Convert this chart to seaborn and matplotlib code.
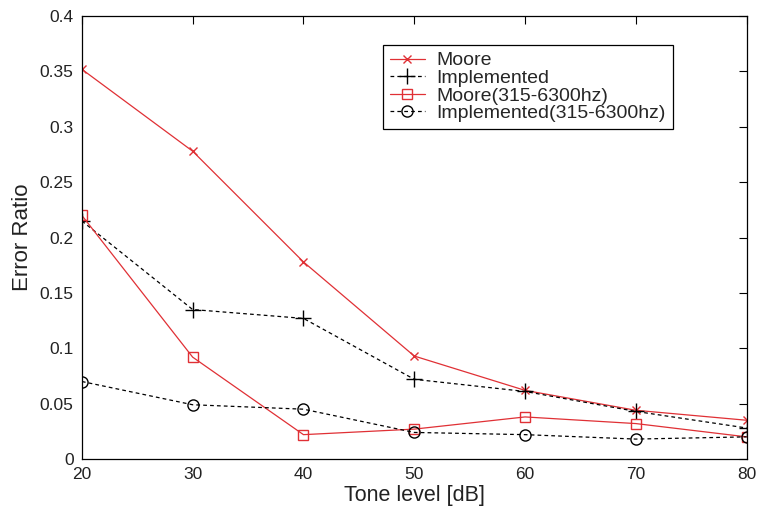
import matplotlib
matplotlib.use("Agg")
import matplotlib.pyplot as plt
import seaborn as sns
import pandas as pd

tone = [20, 30, 40, 50, 60, 70, 80]
moore = [0.352, 0.278, 0.178, 0.093, 0.062, 0.044, 0.035]
implemented = [0.215, 0.135, 0.127, 0.072, 0.061, 0.043, 0.028]
moore_band = [0.220, 0.092, 0.022, 0.027, 0.038, 0.032, 0.020]
impl_band = [0.070, 0.049, 0.045, 0.024, 0.022, 0.018, 0.020]

names = ["Moore", "Implemented", "Moore(315-6300hz)", "Implemented(315-6300hz)"]
series = [moore, implemented, moore_band, impl_band]

rows = []
for n, vals in zip(names, series):
    for x, y in zip(tone, vals):
        rows.append({"tone": x, "err": y, "series": n})
df = pd.DataFrame(rows)

sns.set_theme(style="white")
plt.rcParams['font.family'] = ['Liberation Sans', 'DejaVu Sans']

fig = plt.figure(figsize=(7.58, 5.12), dpi=100)
ax = fig.add_axes([0.108, 0.1035, 0.877, 0.865])

red = "#e03035"
styles = {
    "Moore": dict(color=red, ls="-", marker="x", ms=6),
    "Implemented": dict(color="black", ls="--", marker="+", ms=11),
    "Moore(315-6300hz)": dict(color=red, ls="-", marker="s", ms=7),
    "Implemented(315-6300hz)": dict(color="black", ls="--", marker="o", ms=8),
}
for n in names:
    st = styles[n]
    sub = df[df["series"] == n]
    sns.lineplot(data=sub, x="tone", y="err", ax=ax, color=st["color"],
                 linestyle=st["ls"], marker=st["marker"], markersize=st["ms"],
                 markerfacecolor="none", markeredgecolor=st["color"],
                 markeredgewidth=1.0, linewidth=0.9, label=n)

for line in ax.get_lines():
    if line.get_linestyle() == "--":
        line.set_dashes((3, 2.5))

ax.set_xlim(20, 80)
ax.set_ylim(0, 0.4)
ax.set_xticks(tone)
ax.set_yticks([0, 0.05, 0.1, 0.15, 0.2, 0.25, 0.3, 0.35, 0.4])
ax.set_yticklabels(["0", "0.05", "0.1", "0.15", "0.2", "0.25", "0.3", "0.35", "0.4"])
ax.tick_params(direction="in", top=True, right=True, length=6, width=0.8,
               labelsize=12.5, colors="black")
ax.tick_params(axis="x", pad=6)
ax.tick_params(axis="y", pad=6)
for lab in ax.get_xticklabels() + ax.get_yticklabels():
    lab.set_color("#222222")
for s in ax.spines.values():
    s.set_color("black")
    s.set_linewidth(0.9)
ax.set_xlabel("Tone level [dB]", fontsize=15.5, color="#222222", labelpad=2)
ax.set_ylabel("Error Ratio", fontsize=16, color="#222222", labelpad=5)

leg = ax.legend(loc="upper left", bbox_to_anchor=(0.453, 0.935), fontsize=14,
                frameon=True, fancybox=False, edgecolor="black", framealpha=1,
                handlelength=1.8, borderpad=0.35, labelspacing=0.0,
                handletextpad=0.6, borderaxespad=0)
leg.get_frame().set_linewidth(0.9)

fig.savefig("out.png", dpi=100)
